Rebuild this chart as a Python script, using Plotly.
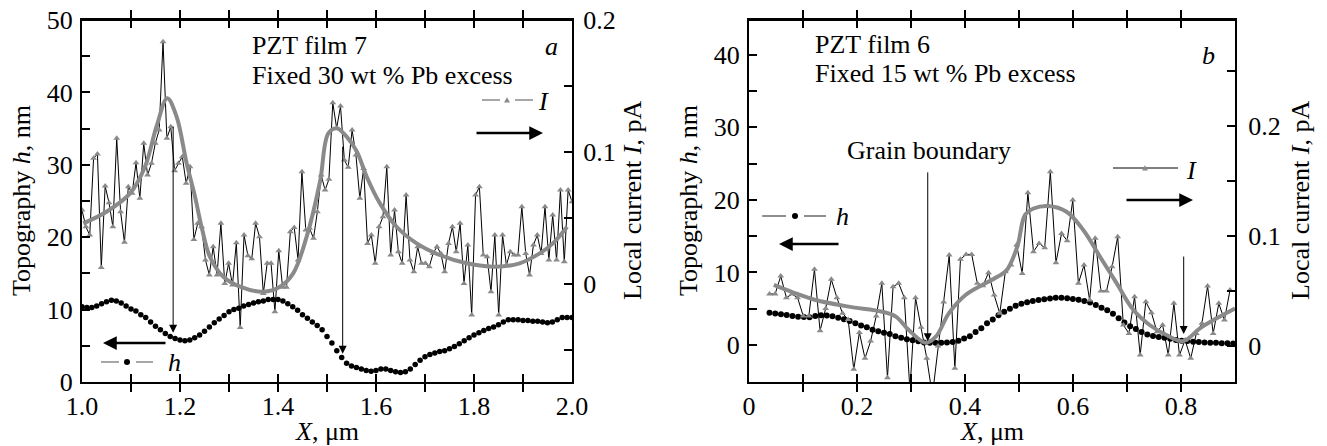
import plotly.graph_objects as go

W, H = 1327, 446
FONT = "'Liberation Serif', 'Times New Roman', 'DejaVu Serif', serif"
FS = 26

# ---------------- Panel a data ----------------
XA_START, XA_STEP = 1.0, 1.0 / 127
I_a = [0.056, 0.0434, 0.0371, 0.0952, 0.0985, 0.0126, 0.0742, 0.0616, 0.0434, 0.1104,
       0.0548, 0.0316, 0.0737, 0.0687, 0.0919, 0.0649, 0.1066, 0.0826, 0.0914, 0.1066,
       0.1167, 0.1836, 0.1104, 0.1192, 0.0859, 0.0914, 0.0965, 0.0763, 0.0889, 0.0338,
       0.046, 0.0434, 0.0182, 0.0068, 0.0283, 0.0068, 0.046, 0.0005, 0.0157, -0.0008,
       0.0313, -0.033, 0.0371, 0.0215, 0.0192, 0.046, 0.0359, -0.0071, 0.0157, 0.0157,
       -0.021, 0.0253, -0.0025, -0.0025, 0.0396, 0.0429, 0.0182, 0.0851, 0.0409, 0.0422,
       0.0346, 0.0548, 0.0826, 0.0712,
       0.0793, 0.1374, 0.118, 0.1348, 0.0939, 0.0884, 0.1167, 0.0977, 0.0649, 0.0876,
       0.0308, 0.0371, 0.0157, 0.0434, 0.051, 0.0889, 0.022, 0.0561, 0.0245, 0.0157,
       0.0674, 0.0182, 0.0093, 0.0283, 0.0157, 0.0157, 0.0131, 0.0232, 0.0283, 0.0232,
       0.0093, 0.0308, 0.0434, 0.0245, 0.046, 0.0005, 0.0295, -0.0235, 0.0674, 0.0737,
       0.022, 0.0207, -0.0058, 0.0371, -0.0235, 0.0371, 0.0144, 0.0245, 0.022, 0.022,
       0.0586, 0.0232, 0.0068, 0.0295, 0.0371, 0.0232, 0.0586, 0.0182, 0.0523, 0.0182,
       0.0712, 0.0169, 0.0712, 0.0624]
X_I_a = [round(XA_START + i * XA_STEP, 5) for i in range(len(I_a))]

XH_A_START, XH_A_STEP = 1.0, 0.01
h_a = [10.4, 10.3, 10.3, 10.5, 10.8, 11.1, 11.3, 11.2, 10.9, 10.5,
       10.1, 9.8, 9.3, 8.9, 8.3, 7.7, 7.2, 6.7, 6.3, 6.0,
       5.8, 5.7, 5.8, 6.1, 6.5, 7.0, 7.6, 8.2, 8.7, 9.2,
       9.7, 10.0, 10.2, 10.5, 10.7, 10.9, 11.1, 11.2, 11.4, 11.4,
       11.4, 11.2, 10.8, 10.4, 9.9, 9.3, 8.8, 8.3, 7.8, 7.2,
       6.3, 5.4, 4.3, 3.4, 2.6, 2.2, 2.0, 1.8, 1.6, 1.5,
       1.6, 1.8, 1.8, 1.6, 1.4, 1.3, 1.4, 1.8, 2.4, 3.0,
       3.5, 3.8, 4.0, 4.2, 4.3, 4.6, 4.9, 5.3, 5.7, 6.1,
       6.5, 6.8, 7.1, 7.4, 7.6, 7.9, 8.3, 8.6, 8.6, 8.6,
       8.5, 8.5, 8.4, 8.4, 8.3, 8.2, 8.3, 8.6, 8.9, 8.9, 8.9]
X_h_a = [round(XH_A_START + i * XH_A_STEP, 4) for i in range(len(h_a))]

fit_a_x = [1.0027, 1.05, 1.098, 1.1286, 1.152, 1.174, 1.193, 1.2136, 1.2306, 1.244,
           1.261, 1.2884, 1.3224, 1.37, 1.404, 1.431, 1.4585, 1.4857, 1.5027, 1.52,
           1.54, 1.561, 1.581, 1.608, 1.642, 1.683, 1.73, 1.785, 1.846, 1.893,
           1.934, 1.961, 1.99]
fit_a_y = [0.046, 0.0548, 0.0687, 0.0889, 0.1192, 0.1407, 0.1268, 0.0914, 0.0662, 0.0434,
           0.0207, 0.0055, -0.002, -0.0058, -0.002, 0.0081, 0.0359, 0.0775, 0.1141, 0.118,
           0.1116, 0.1003, 0.0813, 0.0611, 0.0434, 0.0308, 0.022, 0.0157, 0.0131, 0.0157,
           0.0232, 0.0308, 0.0434]

# ---------------- Panel b data ----------------
XB_I_START, XB_I_STEP = 0.038, 0.0104
I_b = [0.0473, 0.0473, 0.0636, 0.0439, 0.0473, 0.0439, 0.0273, 0.0273, 0.0697, 0.0139,
       0.0342, 0.0606, 0.0439, 0.0297, 0.0242, -0.0212, 0.0124, -0.0112, 0.0045, 0.0273,
       0.057, -0.0288, 0.0539, 0.057, 0.0439, -0.04, 0.0439, 0.017, -0.0112, -0.045,
       0.0, 0.04, 0.0827, -0.0203, 0.0788, 0.0833, 0.0833, 0.057, 0.0548, 0.0667,
       0.0464, 0.0297, 0.0676, 0.0736, 0.0918, 0.066, 0.1394, 0.0858, 0.0933, 0.0894,
       0.1585, 0.0757, 0.1024, 0.0958, 0.1327, 0.057, 0.0736, 0.0418, 0.0979, 0.05,
       0.05, 0.0721, 0.0994, 0.0191, 0.0115, 0.0448, -0.0082, 0.0403, 0.0303, 0.013,
       0.0191, -0.0082, 0.0388, -0.0082, 0.0055, -0.0112, 0.0115, 0.0206, 0.0545, 0.0115,
       0.0388, 0.0236, 0.0509]
X_I_b = [round(XB_I_START + i * XB_I_STEP, 5) for i in range(len(I_b))]

XB_H_START, XB_H_STEP = 0.038, 0.0106
h_b = [4.46, 4.35, 4.25, 4.15, 4.0, 3.9, 3.85, 3.82, 4.0, 4.1,
       4.05, 3.95, 3.75, 3.55, 3.3, 3.0, 2.7, 2.45, 2.1, 1.9,
       1.7, 1.5, 1.2, 1.0, 0.8, 0.65, 0.5, 0.35, 0.3, 0.3,
       0.3, 0.35, 0.4, 0.6, 0.9, 1.2, 1.8, 2.3, 3.0, 3.5,
       4.1, 4.6, 5.0, 5.4, 5.7, 5.9, 6.05, 6.2, 6.3, 6.4,
       6.5, 6.5, 6.45, 6.35, 6.25, 6.05, 5.85, 5.5, 5.15, 4.8,
       4.3, 3.7, 3.1, 2.6, 2.2, 1.8, 1.45, 1.25, 1.1, 1.0,
       0.85, 0.7, 0.6, 0.55, 0.45, 0.4, 0.35, 0.3, 0.3, 0.25,
       0.25, 0.2]
X_h_b = [round(XB_H_START + i * XB_H_STEP, 5) for i in range(len(h_b))]

fit_b_x = [0.046, 0.08, 0.123, 0.185, 0.247, 0.272, 0.296, 0.327, 0.346, 0.37,
           0.401, 0.432, 0.46, 0.477, 0.497, 0.511, 0.527, 0.554, 0.588, 0.619,
           0.65, 0.681, 0.712, 0.742, 0.773, 0.804, 0.835, 0.866, 0.9]
fit_b_y = [0.0555, 0.049, 0.0418, 0.0358, 0.0312, 0.0267, 0.0145, 0.003, 0.0085, 0.0297,
           0.0464, 0.0555, 0.063, 0.0688, 0.0906, 0.119, 0.125, 0.1273, 0.1221, 0.1055,
           0.0812, 0.057, 0.0327, 0.0191, 0.01, 0.0045, 0.0161, 0.0252, 0.0342]

# axis ticks
xa_ticks = [1.0, 1.1, 1.2, 1.3, 1.4, 1.5, 1.6, 1.7, 1.8, 1.9, 2.0]
xa_text = ["1.0", "", "1.2", "", "1.4", "", "1.6", "", "1.8", "", "2.0"]
ya_ticks = [0, 5, 10, 15, 20, 25, 30, 35, 40, 45, 50]
ya_text = ["0", "", "10", "", "20", "", "30", "", "40", "", "50"]
ya2_ticks = [-0.05, 0, 0.05, 0.1, 0.15, 0.2]
ya2_text = ["", "0", "", "0.1", "", "0.2"]
xb_ticks = [0, 0.1, 0.2, 0.3, 0.4, 0.5, 0.6, 0.7, 0.8, 0.9]
xb_text = ["0", "", "0.2", "", "0.4", "", "0.6", "", "0.8", ""]
yb_ticks = [-5, 0, 5, 10, 15, 20, 25, 30, 35, 40]
yb_text = ["", "0", "", "10", "", "20", "", "30", "", "40"]
yb2_ticks = [0, 0.05, 0.1, 0.15, 0.2, 0.25]
yb2_text = ["0", "", "0.1", "", "0.2", ""]


def px(x):
    return x / W


def py(y):
    return 1 - y / H


GRAY = "#8a8a8a"
fig = go.Figure()

# panel a
fig.add_trace(go.Scatter(x=X_I_a, y=I_a, xaxis="x", yaxis="y2", mode="lines+markers",
                         line=dict(color="black", width=1),
                         marker=dict(symbol="triangle-up", size=6, color=GRAY)))
fig.add_trace(go.Scatter(x=fit_a_x, y=fit_a_y, xaxis="x", yaxis="y2", mode="lines",
                         line=dict(color=GRAY, width=4, shape="spline", smoothing=1.0)))
fig.add_trace(go.Scatter(x=X_h_a, y=h_a, xaxis="x", yaxis="y", mode="markers",
                         marker=dict(symbol="circle", size=5.5, color="black")))
# panel b
fig.add_trace(go.Scatter(x=X_I_b, y=I_b, xaxis="x2", yaxis="y4", mode="lines+markers",
                         line=dict(color="black", width=1),
                         marker=dict(symbol="triangle-up", size=6, color=GRAY)))
fig.add_trace(go.Scatter(x=fit_b_x, y=fit_b_y, xaxis="x2", yaxis="y4", mode="lines",
                         line=dict(color=GRAY, width=4, shape="spline", smoothing=1.0)))
fig.add_trace(go.Scatter(x=X_h_b, y=h_b, xaxis="x2", yaxis="y3", mode="markers",
                         marker=dict(symbol="circle", size=6, color="black")))

tickfont = dict(family=FONT, size=FS, color="black")
common = dict(showline=True, linewidth=2, linecolor="black", ticks="inside", ticklen=8,
              tickwidth=1.5, tickcolor="black", showgrid=False, zeroline=False,
              tickfont=tickfont, tickmode="array", automargin=False)

ydom = [py(382), py(20)]
fig.update_layout(
    width=W, height=H, autosize=False, showlegend=False,
    margin=dict(l=0, r=0, t=0, b=0, pad=0),
    paper_bgcolor="white", plot_bgcolor="white",
    font=dict(family=FONT, size=FS, color="black"),
    xaxis=dict(domain=[px(82), px(572)], range=[1.0, 2.0], anchor="y", mirror="allticks",
               tickvals=xa_ticks, ticktext=xa_text, **common),
    yaxis=dict(domain=ydom, range=[0, 50], anchor="x",
               tickvals=ya_ticks, ticktext=ya_text, ticklabelstandoff=2, **common),
    yaxis2=dict(range=[-0.0742, 0.2], overlaying="y", side="right", anchor="x",
                tickvals=ya2_ticks, ticktext=ya2_text, ticklabelstandoff=4, **common),
    xaxis2=dict(domain=[px(749), px(1235)], range=[0, 0.9], anchor="y3", mirror="allticks",
                tickvals=xb_ticks, ticktext=xb_text, **common),
    yaxis3=dict(domain=ydom, range=[-5.1, 44.8], anchor="x2",
                tickvals=yb_ticks, ticktext=yb_text, ticklabelstandoff=2, **common),
    yaxis4=dict(range=[-0.0327, 0.2964], overlaying="y3", side="right", anchor="x2",
                tickvals=yb2_ticks, ticktext=yb2_text, ticklabelstandoff=6, **common),
)

ann = []
txtfont = dict(family=FONT, size=FS, color="black")


def text(x, y, s, xanchor="left", angle=0, yanchor="middle"):
    ann.append(dict(x=px(x), y=py(y), xref="paper", yref="paper", text=s, showarrow=False,
                    xanchor=xanchor, yanchor=yanchor, font=txtfont, textangle=angle))


text(250, 46, "PZT film 7")
text(250, 75, "Fixed 30 wt % Pb excess")
text(551, 47, "<i>a</i>", "center")
text(813, 45, "PZT film 6")
text(813, 73, "Fixed 15 wt % Pb excess")
text(1208, 55, "<i>b</i>", "center")
text(845, 150, "Grain boundary")
text(543, 101, "<i>I</i>", "center")
text(174, 362, "<i>h</i>", "center")
text(842, 217, "<i>h</i>", "center")
text(1191, 170, "<i>I</i>", "center")
# axis titles
text(327, 431, "<i>X</i>, μm", "center")
text(992, 431, "<i>X</i>, μm", "center")
text(21, 201, "Topography <i>h</i>, nm", "center", -90)
text(632, 201, "Local current <i>I</i>, pA", "center", -90)
text(688, 201, "Topography <i>h</i>, nm", "center", -90)
text(1300, 201, "Local current <i>I</i>, pA", "center", -90)


# data arrows (peaks of current -> topography minima)
def data_arrow(xr, yr, x, y0, y1):
    ann.append(dict(x=x, y=y1, ax=x, ay=y0, xref=xr, yref=yr, axref=xr, ayref=yr,
                    text="", showarrow=True, arrowhead=2, arrowsize=1.6, arrowwidth=1,
                    arrowcolor="black"))


data_arrow("x", "y", 1.186, 35.5, 6.8)
data_arrow("x", "y", 1.532, 32.7, 3.9)
data_arrow("x2", "y3", 0.331, 24.0, 0.5)
data_arrow("x2", "y3", 0.805, 12.4, 1.5)


# legend arrows
def px_arrow(xh, yh, xt, head=2, width=2.5):
    ann.append(dict(x=px(xh), y=py(yh), xref="paper", yref="paper", ax=xt - xh, ay=0,
                    text="", showarrow=True, arrowhead=head, arrowsize=1.1, arrowwidth=width,
                    arrowcolor="black"))


px_arrow(103, 343, 167)
px_arrow(543, 133, 475)
px_arrow(779, 244, 840)
px_arrow(1193, 200, 1125)

# top edges of the two frames, drawn as plain connector lines
px_arrow(573, 20, 81, head=0, width=2)
px_arrow(1236, 20, 748, head=0, width=2)

fig.update_layout(annotations=ann)

shapes = []


def seg(x0, x1, y, color, width=1.5):
    shapes.append(dict(type="line", xref="paper", yref="paper", x0=px(x0), x1=px(x1),
                       y0=py(y), y1=py(y), line=dict(color=color, width=width), layer="above"))


def dot(x, y, r, color):
    shapes.append(dict(type="circle", xref="paper", yref="paper", x0=px(x - r), x1=px(x + r),
                       y0=py(y + r), y1=py(y - r), fillcolor=color, line=dict(width=0)))


def tri(x, y, s, color):
    path = "M {} {} L {} {} L {} {} Z".format(px(x - s), py(y + s * 0.8), px(x + s), py(y + s * 0.8),
                                               px(x), py(y - s * 0.9))
    shapes.append(dict(type="path", xref="paper", yref="paper", path=path, fillcolor=color,
                       line=dict(width=0)))


seg(81, 573, 20, "black", 2)
seg(748, 1236, 20, "black", 2)

seg(482, 500, 100, GRAY)
seg(515, 533, 100, GRAY)
tri(507, 100, 3, GRAY)
seg(101, 119, 362, GRAY)
seg(136, 153, 362, GRAY)
dot(127, 362, 3, "black")
seg(762, 786, 216, "#444444", 1.2)
seg(804, 826, 216, "#444444", 1.2)
dot(795, 216, 3, "black")
seg(1113, 1178, 168, "black", 1)
tri(1145, 168, 3, GRAY)

fig.update_layout(shapes=shapes)

fig.write_html(
    "out.html",
    config={"displayModeBar": False},
    post_script="document.body.style.margin='0';document.body.style.overflow='hidden';",
)
